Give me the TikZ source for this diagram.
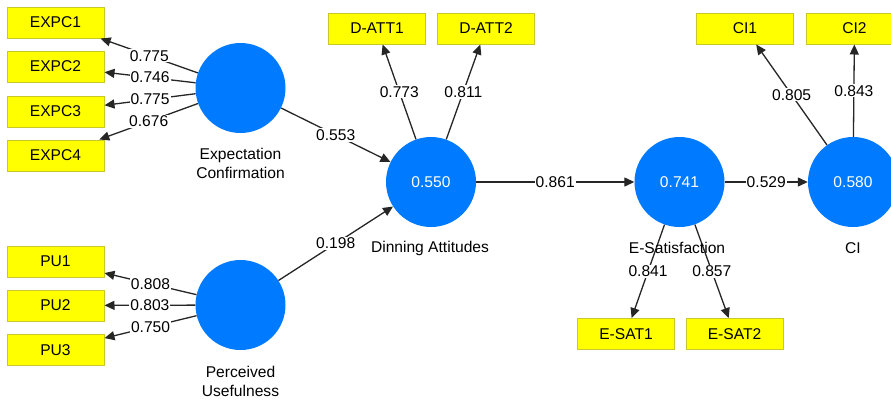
\documentclass[tikz,border=0pt]{standalone}
\usepackage{fontspec}
\setmainfont{Liberation Sans}
\usetikzlibrary{arrows.meta}
\definecolor{lvblue}{RGB}{0,122,255}
\definecolor{mvyellow}{RGB}{255,255,0}
\definecolor{mvborder}{RGB}{200,200,40}

\begin{document}
\begin{tikzpicture}[x=1pt,y=-1pt,
  font=\fontsize{15.6}{19}\selectfont,
  latent/.style={circle,fill=lvblue,minimum size=90pt,inner sep=0pt,text=white},
  indicator/.style={rectangle,draw=mvborder,line width=1pt,fill=mvyellow,minimum width=97pt,minimum height=31pt,inner sep=0pt},
  loadarrow/.style={-{Triangle[length=10pt,width=9pt]},line width=1.3pt,black!85},
  coef/.style={fill=white,inner sep=1pt,text=black}]
  \useasboundingbox (0,0) rectangle (891,399);
  \fill[white] (0,0) rectangle (891,399);
  % latent variables
  \node[latent] (ec) at (240.5,88) {};
  \node[latent] (pu) at (240.5,305) {};
  \node[latent] (da) at (431,182) {0.550};
  \node[latent] (es) at (679.5,182) {0.741};
  \node[latent] (ci) at (853,182) {0.580};
  \node[align=center] (eclab) at (240.5,163) {Expectation\\Confirmation};
  \node[align=center] (pulab) at (240.5,381) {Perceived\\Usefulness};
  \node (dalab) at (430,248) {Dinning Attitudes};
  \node (cilab) at (853,248) {CI};
  % indicators
  \node[indicator] (expc1) at (55.5,22.5) {EXPC1};
  \node[indicator] (expc2) at (55.5,66.5) {EXPC2};
  \node[indicator] (expc3) at (55.5,111.5) {EXPC3};
  \node[indicator] (expc4) at (55.5,155.5) {EXPC4};
  \node[indicator] (pu1) at (55.5,261.5) {PU1};
  \node[indicator] (pu2) at (55.5,305.5) {PU2};
  \node[indicator] (pu3) at (55.5,350) {PU3};
  \node[indicator] (datt1) at (377,28.5) {D-ATT1};
  \node[indicator] (datt2) at (486,28.5) {D-ATT2};
  \node[indicator] (ci1) at (745,28.5) {CI1};
  \node[indicator] (ci2) at (854.5,28.5) {CI2};
  \node[indicator] (esat1) at (626,334) {E-SAT1};
  \node[indicator] (esat2) at (734.5,334) {E-SAT2};
  % loadings
  \draw[loadarrow] (ec) -- node[coef]{0.775} (expc1);
  \draw[loadarrow] (ec) -- node[coef]{0.746} (expc2);
  \draw[loadarrow] (ec) -- node[coef]{0.775} (expc3);
  \draw[loadarrow] (ec) -- node[coef]{0.676} (expc4);
  \draw[loadarrow] (pu) -- node[coef]{0.808} (pu1);
  \draw[loadarrow] (pu) -- node[coef]{0.803} (pu2);
  \draw[loadarrow] (pu) -- node[coef]{0.750} (pu3);
  \draw[loadarrow] (da) -- node[coef]{0.773} (datt1);
  \draw[loadarrow] (da) -- node[coef]{0.811} (datt2);
  \draw[loadarrow] (ci) -- node[coef]{0.805} (ci1);
  \draw[loadarrow] (ci) -- node[coef]{0.843} (ci2);
  \draw[loadarrow] (es) -- node[coef]{0.841} (esat1);
  \draw[loadarrow] (es) -- node[coef]{0.857} (esat2);
  % path coefficients
  \draw[loadarrow] (ec) -- node[coef]{0.553} (da);
  \draw[loadarrow] (pu) -- node[coef]{0.198} (da);
  \draw[loadarrow] (da) -- node[coef]{0.861} (es);
  \draw[loadarrow] (es) -- node[coef]{0.529} (ci);
  \node (eslab) at (677,248) {E-Satisfaction};
\end{tikzpicture}
\end{document}
